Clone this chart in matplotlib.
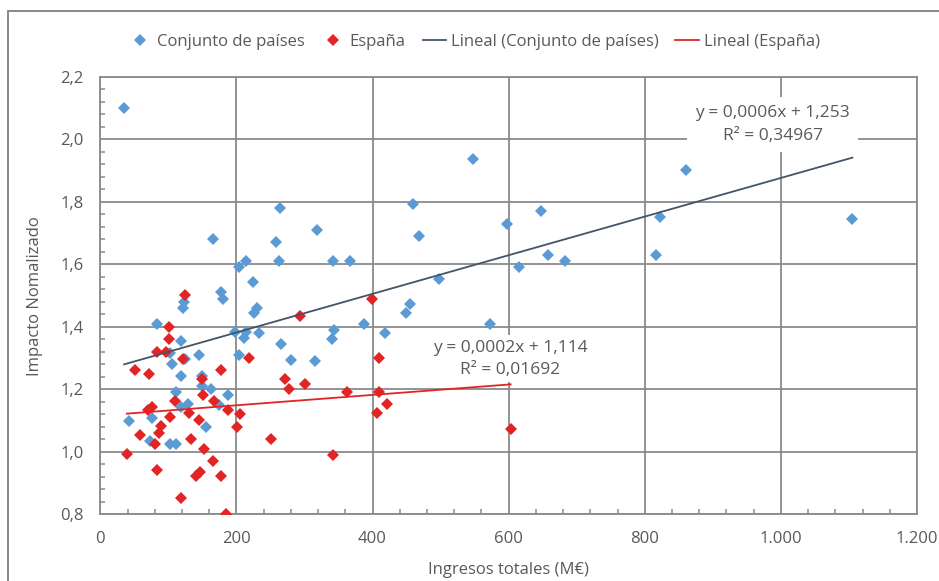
import numpy as np
import matplotlib
matplotlib.use("Agg")
import matplotlib.pyplot as plt
from matplotlib.patches import Rectangle
from matplotlib.ticker import MultipleLocator

plt.rcParams['font.family'] = ['Open Sans', 'DejaVu Sans']

# Conjunto de países (ingresos M€, impacto)
paises_x = [35, 42, 165, 264, 258, 214, 204, 262, 225, 178, 180, 123, 121, 230, 226,
            83, 198, 211, 214, 233, 118, 266, 204, 280, 145, 103, 125, 105, 118, 150,
            150, 163, 111, 188, 118, 129, 175, 76, 156, 73, 103, 111, 318, 460, 468,
            342, 367, 497, 455, 449, 388, 344, 340, 419, 316, 547, 598, 648, 658, 683,
            615, 823, 860, 817, 572, 1105]
paises_y = [2.10, 1.098, 1.682, 1.78, 1.672, 1.61, 1.592, 1.611, 1.544, 1.512, 1.491, 1.48, 1.462, 1.462, 1.444,
            1.41, 1.384, 1.366, 1.383, 1.382, 1.354, 1.344, 1.309, 1.293, 1.309, 1.318, 1.299, 1.28, 1.243, 1.243,
            1.211, 1.20, 1.191, 1.181, 1.143, 1.154, 1.15, 1.109, 1.081, 1.034, 1.024, 1.024, 1.711, 1.792, 1.691,
            1.611, 1.611, 1.553, 1.472, 1.444, 1.411, 1.391, 1.362, 1.382, 1.291, 1.939, 1.729, 1.772, 1.629, 1.610,
            1.592, 1.753, 1.901, 1.629, 1.411, 1.745]

# España
espana_x = [125, 101, 101, 83, 97, 121, 51, 72, 178, 149, 151, 167, 110, 188, 206,
            70, 76, 131, 103, 145, 89, 201, 87, 59, 81, 133, 251, 152, 39, 165,
            83, 146, 140, 178, 118, 184, 293, 219, 272, 278, 301, 362, 410, 409, 421,
            406, 342, 399, 603]
espana_y = [1.501, 1.40, 1.363, 1.321, 1.321, 1.299, 1.262, 1.251, 1.263, 1.234, 1.181, 1.163, 1.163, 1.133, 1.123,
            1.134, 1.143, 1.125, 1.111, 1.101, 1.082, 1.081, 1.061, 1.053, 1.025, 1.043, 1.043, 1.009, 0.992, 0.97,
            0.943, 0.935, 0.922, 0.922, 0.852, 0.80, 1.435, 1.30, 1.234, 1.20, 1.219, 1.191, 1.30, 1.191, 1.153,
            1.125, 0.991, 1.491, 1.072]

x_ticks = [0, 200, 400, 600, 800, 1000, 1200]
x_labels = ['0', '200', '400', '600', '800', '1.000', '1.200']
y_ticks = [0.8, 1.0, 1.2, 1.4, 1.6, 1.8, 2.0, 2.2]
y_labels = ['0,8', '1,0', '1,2', '1,4', '1,6', '1,8', '2,0', '2,2']

eq_paises = 'y = 0,0006x + 1,253\nR² = 0,34967'
eq_espana = 'y = 0,0002x + 1,114\nR² = 0,01692'

blue = '#5B9BD5'
red = '#E32424'
dark = '#44546A'
grey = '#8A8A8A'
txt = '#595959'

fig = plt.figure(figsize=(9.39, 5.81), dpi=100)
ax = fig.add_axes([0.1068, 0.1145, 0.8698, 0.753])

ax.plot(paises_x, paises_y, 'D', color=blue, ms=6.2, mew=0, label='Conjunto de países', zorder=3)
ax.plot(espana_x, espana_y, 'D', color=red, ms=6.2, mew=0, label='España', zorder=3)

# linear trend lines
pp = np.polyfit(paises_x, paises_y, 1)
xs = np.array([min(paises_x), max(paises_x)])
ax.plot(xs, np.polyval(pp, xs), color=dark, lw=1.3, label='Lineal (Conjunto de países)', zorder=4)
pe = np.polyfit(espana_x, espana_y, 1)
xs = np.array([min(espana_x), max(espana_x)])
ax.plot(xs, np.polyval(pe, xs), color=red, lw=1.3, label='Lineal (España)', zorder=4)

ax.text(988, 2.048, eq_paises, ha='center', va='center', fontsize=12.5, color=txt,
        linespacing=1.55, zorder=5,
        bbox=dict(facecolor='white', edgecolor='none', pad=6))
ax.text(602, 1.298, eq_espana, ha='center', va='center', fontsize=12.5, color=txt,
        linespacing=1.55, zorder=5,
        bbox=dict(facecolor='white', edgecolor='none', pad=3))

ax.set_xlim(0, 1200)
ax.set_ylim(0.8, 2.2)
ax.set_xticks(x_ticks)
ax.set_xticklabels(x_labels)
ax.set_yticks(y_ticks)
ax.set_yticklabels(y_labels)
ax.xaxis.set_minor_locator(MultipleLocator(40))
ax.yaxis.set_minor_locator(MultipleLocator(0.04))
ax.tick_params(which='both', direction='in', color=grey, width=1.1, top=False, right=False)
ax.tick_params(which='major', length=0, labelsize=12, labelcolor=txt)
ax.tick_params(axis='x', which='major', pad=12)
ax.tick_params(axis='y', which='major', pad=12)
ax.tick_params(which='minor', length=3.5)
ax.grid(True, which='major', color=grey, lw=1.3)
ax.set_axisbelow(True)
for s in ax.spines.values():
    s.set_color(grey)
    s.set_linewidth(1.3)

ax.set_xlabel('Ingresos totales (M€)', fontsize=12, color=txt, labelpad=11)
ax.set_ylabel('Impacto Nomalizado', fontsize=12, color=txt, labelpad=12)

fig.legend(loc='center', bbox_to_anchor=(0.505, 0.928), ncol=4, frameon=False,
           fontsize=12, labelcolor=txt, handlelength=1.4, handletextpad=0.3,
           columnspacing=1.0, markerscale=1.0)

# outer chart border
fig.add_artist(Rectangle((8 / 939, -0.2), 1.2, 1.2 - 11 / 581, transform=fig.transFigure,
                         fill=False, edgecolor='#7F7F7F', lw=1.3))

fig.savefig('out.png', dpi=100)
